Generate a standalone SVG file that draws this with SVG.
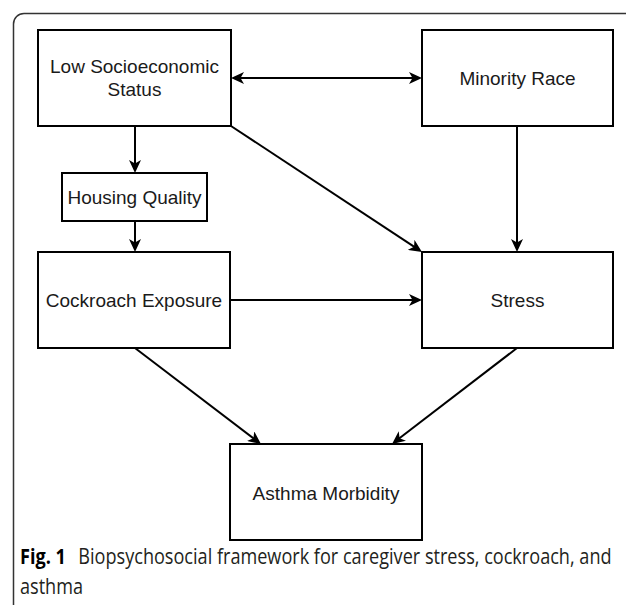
<svg xmlns="http://www.w3.org/2000/svg" width="626" height="605" viewBox="0 0 626 605">
<style>
.box{fill:#fff;stroke:#000;stroke-width:2}
.lbl{font-family:"Liberation Sans",Arial,sans-serif;font-size:19px;fill:#1a1a1a;text-anchor:middle}
.edge{stroke:#000;stroke-width:2;fill:none;marker-end:url(#ah)}
.cap{font-family:"Open Sans","Noto Sans",sans-serif;font-size:21px;fill:#231f20}
</style>
<defs>
<marker id="ah" markerUnits="userSpaceOnUse" viewBox="0 0 13 12" markerWidth="13" markerHeight="12" refX="7" refY="6" orient="auto-start-reverse">
<path d="M0,0 L13,6 L0,12 L3.5,6 Z" fill="#000"/>
</marker>
</defs>
<rect width="626" height="605" fill="#fff"/>
<path d="M13.5,605 V24 A10.5,10.5 0 0 1 24,13.5 H626" fill="none" stroke="#333" stroke-width="1.5"/>
<g id="connectors">
<path class="edge" d="M237,78 H416" style="marker-start:url(#ah)"/>
<path class="edge" d="M135,126 V167"/>
<path class="edge" d="M135,221 V246"/>
<path class="edge" d="M231,126 L417,248.7"/>
<path class="edge" d="M517,126 V246"/>
<path class="edge" d="M230,300 H416"/>
<path class="edge" d="M135,348 L256.2,440.4"/>
<path class="edge" d="M517,348 L396.8,440.3"/>
</g>
<g id="ses"><rect class="box" x="38" y="30" width="193" height="96"/><text class="lbl" x="134.5" y="73">Low Socioeconomic</text><text class="lbl" x="134.5" y="96">Status</text></g>
<g id="minority"><rect class="box" x="422" y="30" width="191" height="96"/><text class="lbl" x="517.5" y="85">Minority Race</text></g>
<g id="housing"><rect class="box" x="62" y="173" width="145" height="48"/><text class="lbl" x="134.5" y="204">Housing Quality</text></g>
<g id="cockroach"><rect class="box" x="38" y="252" width="192" height="96"/><text class="lbl" x="134" y="307">Cockroach Exposure</text></g>
<g id="stress"><rect class="box" x="422" y="252" width="191" height="96"/><text class="lbl" x="517.5" y="307">Stress</text></g>
<g id="asthma"><rect class="box" x="230" y="444" width="192" height="96"/><text class="lbl" x="326" y="500">Asthma Morbidity</text></g>
<g id="caption" transform="translate(20 0) scale(0.862 1)">
<text class="cap" x="0" y="564"><tspan font-weight="bold" fill="#000">Fig. 1</tspan><tspan dx="9"> Biopsychosocial framework for caregiver stress, cockroach, and</tspan></text>
<text class="cap" x="0" y="594">asthma</text>
</g>
</svg>
